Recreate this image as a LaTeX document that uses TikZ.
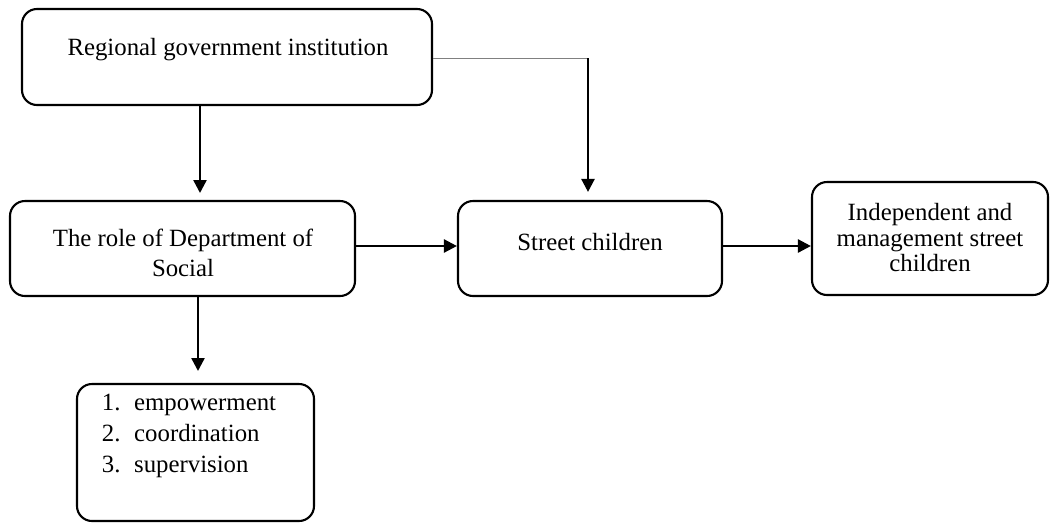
\documentclass[tikz,border=0pt]{standalone}
\usepackage{fontspec}
\setmainfont{Liberation Serif}
\usetikzlibrary{arrows.meta}
\begin{document}
\begin{tikzpicture}[x=1pt,y=-1pt,
  box/.style={draw, line width=2.1pt, rounded corners=15pt, inner sep=0pt},
  txt/.style={align=center, inner sep=0pt, font=\fontsize{24.8}{30}\selectfont},
  arr/.style={line width=2.4pt, -{Triangle[width=13pt,length=13pt]}},
  thin/.style={draw=gray, line width=1pt}]
\useasboundingbox (0,0) rectangle (1050,523);
\node[box, minimum width=410pt, minimum height=96pt] (reg) at (227,57) {};
\node[txt] (regt) at (228,50) {Regional government institution};
\node[box, minimum width=345pt, minimum height=95pt] (dept) at (182.5,248.5) {};
\node[txt] (deptt) at (183,253) {The role of Department of\\Social};
\node[box, minimum width=264pt, minimum height=95pt] (street) at (590,248.5) {};
\node[txt] (streett) at (590,242) {Street children};
\node[box, minimum width=236pt, minimum height=113pt] (indep) at (930,238.5) {};
\node[txt, font=\fontsize{24.8}{25.5}\selectfont] (indept) at (930,238) {Independent and\\management street\\children};
\node[box, minimum width=237pt, minimum height=137pt] (list) at (195.5,452.5) {};
\node[txt, align=left, font=\fontsize{24.8}{31}\selectfont] (listt) at (189,436) {1.\hspace{0.55em}empowerment\\2.\hspace{0.55em}coordination\\3.\hspace{0.55em}supervision};
\coordinate (c1) at (200,105);
\coordinate (c2) at (200,201);
\coordinate (c3) at (588,58);
\coordinate (c4) at (198,296);
\coordinate (c5) at (198,384);
\draw[arr, shorten >=8pt] (c1) -- (c2);
\draw[thin] (reg.east |- c3) -- (c3);
\draw[arr, shorten >=8pt] (c3) -- (c3 |- street.north);
\draw[arr] (dept.east |- 0,246) -- (street.west |- 0,246);
\draw[arr] (street.east |- 0,246) -- (indep.west |- 0,246);
\draw[arr, shorten >=13pt] (c4) -- (c5);
\end{tikzpicture}
\end{document}
